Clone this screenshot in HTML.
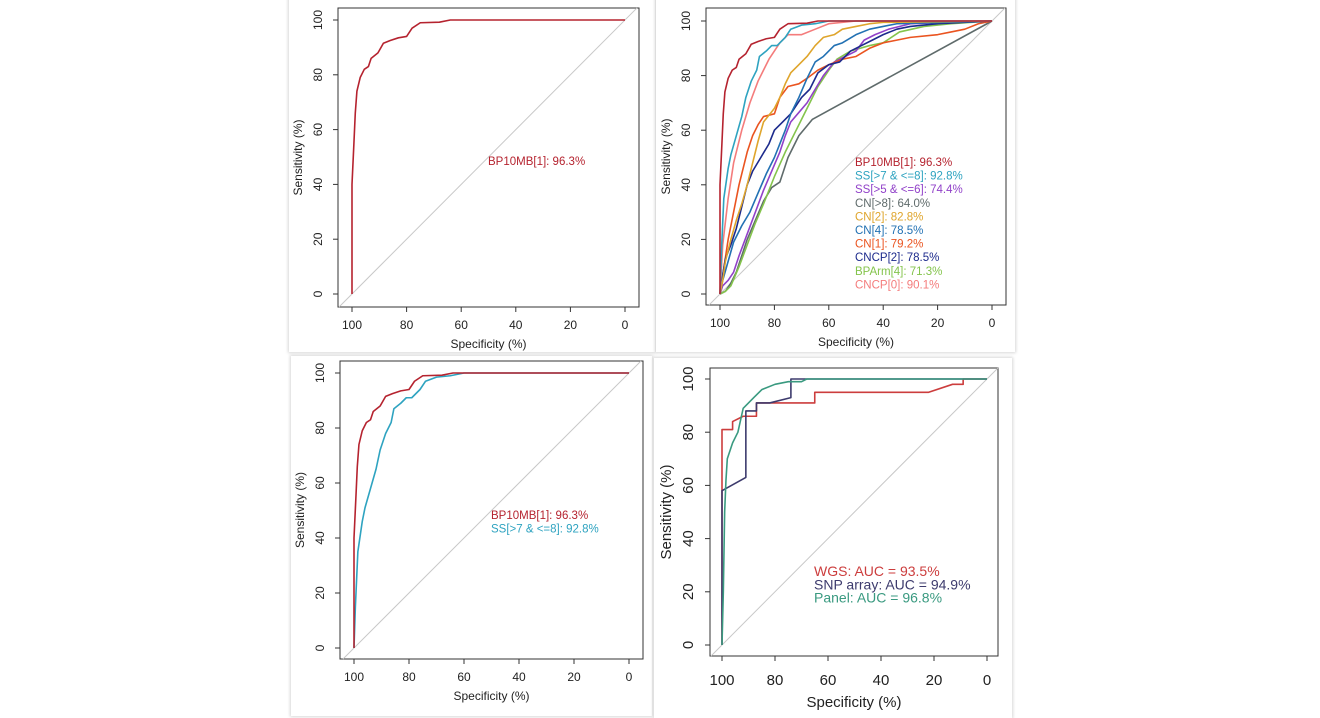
<!DOCTYPE html>
<html><head><meta charset="utf-8"><style>
body{margin:0;width:1320px;height:711px;background:#fff;overflow:hidden;position:relative;font-family:"Liberation Sans",sans-serif}
.pn{position:absolute;background:#fff;box-shadow:0 0 3px 1px #d8d8d8}
svg{position:absolute;left:0;top:0}
</style></head><body>
<div class="pn" style="left:289px;top:-4px;width:366px;height:356px"></div>
<div class="pn" style="left:656px;top:-4px;width:359px;height:356px"></div>
<div class="pn" style="left:291px;top:356px;width:361px;height:360px"></div>
<div class="pn" style="left:654px;top:358px;width:358px;height:360px"></div>
<svg id="s" width="1320" height="711"></svg>
<script>
const bp10mb=[[100,0],[100,40],[99.3,55],[98.8,66],[98.2,74],[97,79],[95.5,82],[94,83],[93,86],[90.5,88],[88.5,91.5],[86,92.5],[83,93.5],[80,94],[78,97],[75,99],[68,99.2],[64,100],[0,100]];
const ss78=[[100,0],[99.5,15],[98.6,35],[97,46],[96,51],[94,58],[92,65],[90.5,72],[88.5,78],[86.5,82],[85.5,87],[83,89],[81,91],[79,91],[76,94],[74,97],[70,98.5],[65,99],[60,100],[0,100]];
const ss56=[[100,0],[99,3],[97,5],[95,8],[93,14],[90,22],[87,30],[84,38],[81,45],[78,52],[76,58],[74,63],[71,66.5],[68,70],[65,75],[62,80],[58,85],[54,87],[50,89],[47,93],[43,95],[38,97],[30,99],[0,100]];
const cn8=[[100,0],[98,1],[96,4],[94,8],[92,14],[90,20],[87,27],[84,34],[81,39],[78,41],[75,50],[71,58],[66,64],[0,100]];
const cn2=[[100,0],[99,5],[98,12],[96,20],[94,27],[92,33],[90,40],[88,48],[86,56],[84,63],[80,68],[78,72],[76,77],[74,81],[71,84],[68,87],[65,91],[62,94],[58,95],[55,97],[50,98],[45,99],[40,99.5],[0,100]];
const cn4=[[100,0],[99,5],[97,12],[95,19],[92,25],[89,30],[86,37],[83,44],[80,50],[78,55],[76,60],[74,66],[71,72],[68,79],[65,85],[62,87],[58,91],[55,92],[50,95],[45,97],[40,98],[35,99],[0,100]];
const cn1=[[100,0],[98.5,10],[97,20],[95,30],[93,40],[90,52],[88,58],[86,62],[84,65],[80,66],[78,72],[75,76],[71,77],[68,79],[64,82],[60,84],[55,86],[50,87],[45,90],[40,92],[35,93],[30,94],[20,95],[15,96],[10,97],[5,99],[0,100]];
const cncp2=[[100,0],[99,7],[98,13],[96,18],[94,24],[92,32],[90,40],[88,45],[85,50],[82,55],[80,60],[77,63],[74,66],[70,72],[67,75],[64,81],[60,84],[56,85],[52,89],[48,91],[44,93],[40,95],[35,97],[30,98],[20,99],[0,100]];
const bparm4=[[100,0],[98,1],[96,3],[93,10],[90,18],[87,26],[84,33],[80,43],[76,52],[72,60],[68,68],[64,76],[60,82],[57,86],[52,89],[45,91],[40,92],[34,96],[25,98],[15,99],[0,100]];
const cncp0=[[100,0],[99,18],[97,35],[95,48],[92,60],[89,70],[86,78],[82,86],[78,92],[75,95],[70,95],[65,97],[60,99],[50,100],[0,100]];
const wgs=[[100,0],[100,81],[96,81],[96,84],[92,86],[87,86],[87,91],[65,91],[65,95],[22,95],[13,98],[9,98],[9,100],[0,100]];
const snp=[[100,0],[100,58],[91,63],[91,88],[87,88],[87,91],[82,91],[74,93],[74,100],[0,100]];
const panelSeq=[[100,0],[99.5,20],[99,50],[98.5,62],[98,70],[96,76],[94,80],[92,89],[90,91],[88,93],[85,96],[80,98],[75,99],[70,99],[68,100],[0,100]];
const ticks=[0,20,40,60,80,100];
const NS="http://www.w3.org/2000/svg",S=document.getElementById('s');
function mk(t,a,txt){const e=document.createElementNS(NS,t);for(const k in a)e.setAttribute(k,a[k]);if(txt!=null)e.textContent=txt;S.appendChild(e);return e;}
function panel(p){
 const X=v=>p.x100+(100-v)*(p.x0-p.x100)/100, Y=v=>p.y0-v*(p.y0-p.y100)/100;
 let e=mk('rect',{x:p.bx,y:p.by,width:p.bw,height:p.bh,fill:'none',stroke:'#333','stroke-width':1});
 
 const sl=(p.y0-p.y100)/(p.x0-p.x100);
 let x1=p.bx,y1=p.y0+(p.x100-p.bx)*sl; if(y1>p.by+p.bh){y1=p.by+p.bh;x1=p.x100-(y1-p.y0)/sl;}
 let x2=p.bx+p.bw,y2=p.y0-(x2-p.x100)*sl; if(y2<p.by){y2=p.by;x2=p.x100+(p.y0-y2)/sl;}
 e=mk('line',{x1:x1,y1:y1,x2:x2,y2:y2,stroke:'#c8c8c8','stroke-width':1});
 
 ticks.forEach(t=>{
  mk('line',{x1:X(t),x2:X(t),y1:p.by+p.bh,y2:p.by+p.bh+5,stroke:'#333'});
  e=mk('text',{x:X(t),y:p.by+p.bh+p.tOff,'font-size':p.fs,'text-anchor':'middle',fill:'#222'},t);
  
  mk('line',{x1:p.bx,x2:p.bx-5,y1:Y(t),y2:Y(t),stroke:'#333'});
  e=mk('text',{x:0,y:0,'font-size':p.fs,'text-anchor':'middle',fill:'#222',transform:`translate(${p.bx-p.yOff},${Y(t)}) rotate(-90)`},t);
  
 });
 e=mk('text',{x:(p.bx+p.bw/2),y:p.by+p.bh+p.titOff,'font-size':p.fs,'text-anchor':'middle',fill:'#222'},'Specificity (%)');
 
 e=mk('text',{x:0,y:0,'font-size':p.fs,'text-anchor':'middle',fill:'#222',transform:`translate(${p.bx-p.yTitOff},${p.by+p.bh/2}) rotate(-90)`},'Sensitivity (%)');
 
 p.series.forEach((s,i)=>{
  e=mk('polyline',{points:s.d.map(q=>X(q[0])+','+Y(q[1])).join(' '),fill:'none',stroke:s.c,'stroke-width':1.6,'stroke-linejoin':'round'});
  
 });
 p.series.slice().sort((a,b)=>a.o-b.o).forEach((s,i)=>{
  e=mk('text',{x:p.lx,y:p.ly+i*p.lh,'font-size':p.lfs,fill:s.c},s.l);
  
 });
}
const RED='#b5232f',TEAL='#2ea3c0';
const small={fs:12,tOff:22,titOff:41,yOff:16,yTitOff:36};
panel(Object.assign({id:'p1',bx:338,by:8,bw:301,bh:299,x100:352,x0:625,y100:20,y0:294,lx:488,ly:165,lh:13.6,lfs:11.5,
 series:[{n:'bp10mb',d:bp10mb,c:RED,l:'BP10MB[1]: 96.3%',o:0}]},small));
panel(Object.assign({id:'p2',bx:706,by:8,bw:300,bh:297,x100:720,x0:992,y100:21,y0:294,lx:855,ly:166,lh:13.6,lfs:11.5,
 series:[{n:'cn8',d:cn8,c:'#5f6b6b',l:'CN[>8]: 64.0%',o:3},{n:'bparm4',d:bparm4,c:'#84c44c',l:'BPArm[4]: 71.3%',o:8},{n:'ss56',d:ss56,c:'#9141c9',l:'SS[>5 & <=6]: 74.4%',o:2},{n:'cn1',d:cn1,c:'#ea5420',l:'CN[1]: 79.2%',o:6},{n:'cncp2',d:cncp2,c:'#1c2a8c',l:'CNCP[2]: 78.5%',o:7},{n:'cn4',d:cn4,c:'#2271b3',l:'CN[4]: 78.5%',o:5},{n:'cn2',d:cn2,c:'#dfa52c',l:'CN[2]: 82.8%',o:4},{n:'cncp0',d:cncp0,c:'#f47c7c',l:'CNCP[0]: 90.1%',o:9},{n:'ss78',d:ss78,c:TEAL,l:'SS[>7 & <=8]: 92.8%',o:1},{n:'bp10mb',d:bp10mb,c:RED,l:'BP10MB[1]: 96.3%',o:0}]},small));
panel(Object.assign({id:'p3',bx:340,by:361,bw:303,bh:298,x100:354,x0:629,y100:373,y0:648,lx:491,ly:519,lh:13.6,lfs:11.5,
 series:[{n:'ss78',d:ss78,c:TEAL,l:'SS[>7 & <=8]: 92.8%',o:1},{n:'bp10mb',d:bp10mb,c:RED,l:'BP10MB[1]: 96.3%',o:0}]},small));
panel({id:'p4',bx:710,by:368,bw:288,bh:288,x100:722,x0:987,y100:379,y0:645,fs:15,tOff:29,titOff:51,yOff:17,yTitOff:39,lx:814,ly:576,lh:13.3,lfs:14,
 series:[{n:'wgs',d:wgs,c:'#cc3d3d',l:'WGS: AUC = 93.5%',o:0},{n:'snp-array',d:snp,c:'#3d3b6d',l:'SNP array: AUC = 94.9%',o:1},{n:'panel',d:panelSeq,c:'#3a9a80',l:'Panel: AUC = 96.8%',o:2}]});
</script>
</body></html>
